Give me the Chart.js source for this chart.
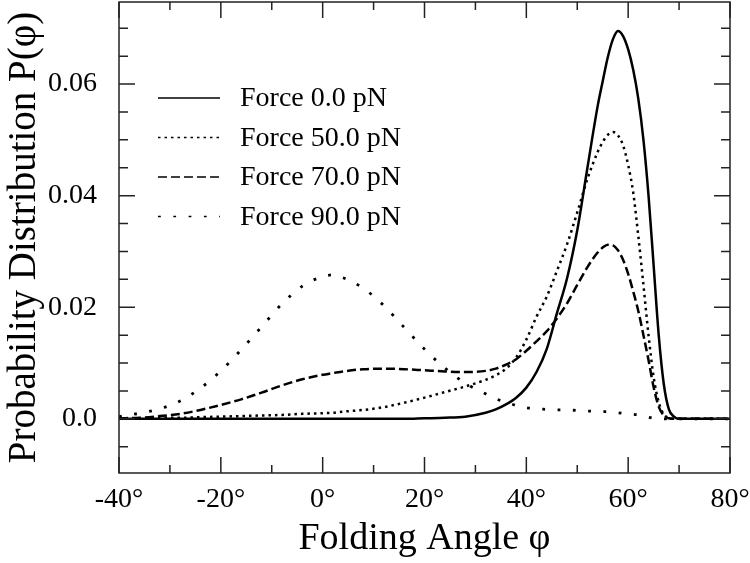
<!DOCTYPE html>
<html>
<head>
<meta charset="utf-8">
<script src="https://cdn.jsdelivr.net/npm/chart.js@4"></script>
<style>
  html, body { margin: 0; padding: 0; background: #fff; }
</style>
</head>
<body>
<canvas id="grafico" width="750" height="563"></canvas>
<script>
// angulo de plegado (grados)
const angulos = [-40, -36, -32, -28, -24, -20, -16, -12, -8, -4,
  0, 2, 4, 8, 12, 16, 20, 24, 28, 32,
  34, 36, 38, 40, 42, 44, 46, 48, 50, 52,
  54, 55, 56, 57, 58, 59, 60, 61, 62, 63,
  64, 65, 66, 67, 68, 69, 70, 75, 80];

const fuerza0 = [0, 0, 0, 0, 0, 0, 0, 0, 0, 0,
  0, 0, 0, 0, 0, 0, 0.0001, 0.0002, 0.0004, 0.0011,
  0.0017, 0.0026, 0.0038, 0.0056, 0.0084, 0.0125, 0.0189, 0.0252, 0.0338, 0.0450,
  0.0560, 0.0605, 0.0648, 0.0680, 0.0695, 0.0686, 0.0662, 0.0625, 0.0573, 0.0500,
  0.0400, 0.0275, 0.0150, 0.0062, 0.0017, 0.0004, 0, 0, 0];

const fuerza50 = [0.0001, 0.0001, 0.0002, 0.0002, 0.0003, 0.0004, 0.0005, 0.0006, 0.0007, 0.0009,
  0.0010, 0.0011, 0.0013, 0.0016, 0.0021, 0.0029, 0.0038, 0.0048, 0.0058, 0.0070,
  0.0078, 0.0090, 0.0110, 0.0142, 0.0183, 0.0219, 0.0265, 0.0313, 0.0370, 0.0430,
  0.0478, 0.0496, 0.0509, 0.0514, 0.0508, 0.0490, 0.0455, 0.0405, 0.0327, 0.0240,
  0.0150, 0.0075, 0.0030, 0.0008, 0.0002, 0, 0, 0, 0];

const fuerza70 = [0.0001, 0.0002, 0.0005, 0.0009, 0.0016, 0.0025, 0.0035, 0.0047, 0.0060, 0.0071,
  0.0079, 0.0082, 0.0085, 0.0089, 0.0090, 0.0089, 0.0087, 0.0085, 0.0084, 0.0086,
  0.0090, 0.0097, 0.0107, 0.0122, 0.0139, 0.0157, 0.0180, 0.0207, 0.0240, 0.0272,
  0.0298, 0.0307, 0.0312, 0.0311, 0.0302, 0.0285, 0.0260, 0.0228, 0.0193, 0.0150,
  0.0105, 0.0057, 0.0022, 0.0006, 0.0001, 0, 0, 0, 0];

const fuerza90 = [0.0004, 0.0010, 0.0018, 0.0032, 0.0055, 0.0086, 0.0124, 0.0165, 0.0206, 0.0238,
  0.0255, 0.0258, 0.0253, 0.0234, 0.0203, 0.0164, 0.0125, 0.0091, 0.0064, 0.0045,
  0.0036, 0.0030, 0.0024, 0.0020, 0.0018, 0.0017, 0.0016, 0.0016, 0.0015, 0.0014,
  0.0014, 0.0013, 0.0013, 0.0012, 0.0011, 0.0010, 0.0009, 0.0008, 0.0007, 0.0005,
  0.0003, 0.0001, 0, 0, 0, 0, 0, 0, 0];

const etiquetas = ["Force 0.0 pN", "Force 50.0 pN", "Force 70.0 pN", "Force 90.0 pN"];
const ticksY = [0, 0.02, 0.04, 0.06];

const fuente = "'Liberation Serif', 'Times New Roman', serif";

function serie(valores, i, estilo) {
  return Object.assign({
    label: etiquetas[i],
    data: angulos.map((a, k) => ({ x: a, y: valores[k] })),
    borderColor: "#000",
    pointRadius: 0,
    fill: false,
    cubicInterpolationMode: "monotone",
  }, estilo);
}

// marco con marcas hacia adentro + leyenda dentro del area
const marco = {
  id: "marco",
  afterDatasetsDraw(chart) {
    const { ctx, chartArea: a, scales: { x, y } } = chart;
    ctx.save();
    ctx.strokeStyle = "#222";
    ctx.lineWidth = 1.5;
    ctx.setLineDash([]);
    ctx.strokeRect(a.left, a.top, a.right - a.left, a.bottom - a.top);
    ctx.beginPath();
    for (let v = -40; v <= 80; v += 10) {
      const px = x.getPixelForValue(v);
      const largo = v % 20 === 0 ? 16 : 8;
      ctx.moveTo(px, a.bottom); ctx.lineTo(px, a.bottom - largo);
      ctx.moveTo(px, a.top); ctx.lineTo(px, a.top + largo);
    }
    for (let k = -1; k <= 14; k++) {
      const py = y.getPixelForValue(k * 0.005);
      const largo = k % 4 === 0 ? 16 : 9;
      ctx.moveTo(a.left, py); ctx.lineTo(a.left + largo, py);
      ctx.moveTo(a.right, py); ctx.lineTo(a.right - largo, py);
    }
    ctx.stroke();

    // leyenda
    ctx.font = "28px " + fuente;
    ctx.fillStyle = "#000";
    ctx.textBaseline = "middle";
    chart.data.datasets.forEach((d, i) => {
      const yy = 98 + i * 39.5;
      ctx.beginPath();
      ctx.strokeStyle = "#000";
      ctx.lineWidth = 1.5;
      ctx.setLineDash(d.borderDash || []);
      ctx.moveTo(158, yy);
      ctx.lineTo(220, yy);
      ctx.stroke();
      ctx.fillText(d.label, 240, yy + 1);
    });
    ctx.restore();
  },
};

const ctx = document.getElementById("grafico");

const grafico = new Chart(ctx, {
  type: "line",

  data: {
    datasets: [
      serie(fuerza0, 0, { borderWidth: 2.5 }),
      serie(fuerza50, 1, { borderWidth: 2.5, borderDash: [2.5, 4] }),
      serie(fuerza70, 2, { borderWidth: 2.5, borderDash: [9, 4] }),
      serie(fuerza90, 3, { borderWidth: 2.8, borderDash: [2.8, 12.5] }),
    ],
  },

  options: {
    responsive: false,
    animation: false,
    devicePixelRatio: 1,

    layout: {
      padding: { top: 2, right: 20, left: 0, bottom: 0 },
    },

    plugins: {
      legend: { display: false },
      tooltip: { enabled: false },
    },

    scales: {
      x: {
        type: "linear",
        min: -40,
        max: 80,
        grid: { display: false },
        border: { display: false },
        ticks: {
          stepSize: 20,
          padding: 2,
          maxRotation: 0,
          autoSkip: false,
          color: "#000",
          font: { family: fuente, size: 28 },
          callback: (v) => v + "°",
        },
        title: {
          display: true,
          text: "Folding Angle φ",
          color: "#000",
          font: { family: fuente, size: 38 },
          padding: { top: 0, bottom: 1 },
        },
        afterFit: (s) => {
          s.height = 90;
          s.paddingLeft = 0;
          s.paddingRight = 0;
        },
      },

      y: {
        min: -0.0097,
        max: 0.0747,
        grid: { display: false },
        border: { display: false },
        afterBuildTicks: (s) => { s.ticks = ticksY.map((v) => ({ value: v })); },
        ticks: {
          padding: 14,
          color: "#000",
          font: { family: fuente, size: 28 },
          callback: (v) => (v === 0 ? "0.0" : v.toFixed(2)),
        },
        title: {
          display: true,
          text: "Probability Distribution P(φ)",
          color: "#000",
          font: { family: fuente, size: 39 },
          padding: { top: 1, bottom: 0 },
        },
        afterFit: (s) => {
          s.width = 119;
          s.paddingTop = 0;
          s.paddingBottom = 0;
        },
      },
    },
  },

  plugins: [marco],
});
</script>
</body>
</html>
